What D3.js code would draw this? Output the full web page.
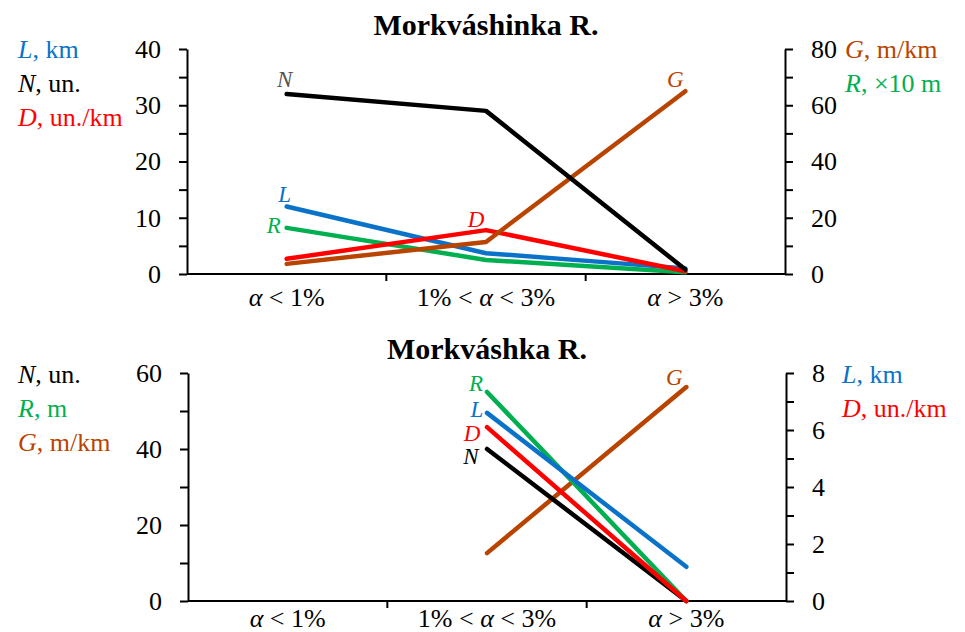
<!DOCTYPE html>
<html>
<head>
<meta charset="utf-8">
<script src="https://cdn.jsdelivr.net/npm/d3@7"></script>
<style>
  html, body { margin: 0; padding: 0; background: #fff; }
  svg { display: block; font-family: "Liberation Serif", "DejaVu Serif", serif; }
</style>
</head>
<body>
<svg id="chart" width="965" height="632"></svg>
<script>
// Slope classes along the x axis
const categories = ["α < 1%", "1% < α < 3%", "α > 3%"];

// Morkváshinka R. (upper panel)
const upperN = [32, 29, 0.8];     // un., left axis
const upperL = [12, 3.7, 1.0];    // km, left axis
const upperD = [2.7, 7.8, 0.5];   // un./km, left axis
const upperR = [16.4, 5.0, 0.6];  // ×10 m, right axis
const upperG = [3.6, 11.4, 65];   // m/km, right axis
const upperLeftTicks = [0, 10, 20, 30, 40];
const upperRightTicks = [0, 20, 40, 60, 80];

// Morkváshka R. (lower panel) – no reaches in the gentlest class
const lowerN = [null, 40, 0];     // un., left axis
const lowerR = [null, 55, 0];     // m, left axis
const lowerG = [null, 12.6, 56.3];// m/km, left axis
const lowerL = [null, 6.6, 1.2];  // km, right axis
const lowerD = [null, 6.1, 0];    // un./km, right axis
const lowerLeftTicks = [0, 20, 40, 60];
const lowerRightTicks = [0, 2, 4, 6, 8];

const COLORS = {
  L: "#0a72c8",
  N: "#000000",
  D: "#ff0000",
  R: "#00b050",
  G: "#b94400"
};

const svg = d3.select("#chart");
const FS = 26;        // axis text
const FS_SERIES = 23; // letters naming each line

function italicLabel(g, x, y, letter, rest, color, anchor, size) {
  const t = g.append("text")
    .attr("x", x).attr("y", y)
    .attr("fill", color)
    .attr("font-size", size || FS)
    .attr("text-anchor", anchor || "start");
  t.append("tspan").attr("font-style", "italic").text(letter);
  if (rest) t.append("tspan").text(rest);
  return t;
}

function drawPanel(p) {
  const g = svg.append("g");
  const x = d3.scaleBand().domain(categories).range([p.x0, p.x1]).paddingInner(0).paddingOuter(0);
  const cx = c => x(c) + x.bandwidth() / 2;
  const yL = d3.scaleLinear().domain([0, p.leftTicks[p.leftTicks.length - 1]]).range([p.yBottom, p.yTop]);
  const yR = d3.scaleLinear().domain([0, p.rightTicks[p.rightTicks.length - 1]]).range([p.yBottom, p.yTop]);

  // title
  g.append("text")
    .attr("x", (p.x0 + p.x1) / 2).attr("y", p.titleY)
    .attr("text-anchor", "middle")
    .attr("font-weight", "bold")
    .attr("font-size", 30)
    .text(p.title);

  // y axes: major ticks labelled, minor ticks halfway between
  function tickSet(ticks) {
    const step = ticks[1] - ticks[0];
    const out = [];
    ticks.forEach((t, i) => { out.push(t); if (i < ticks.length - 1) out.push(t + step / 2); });
    return out;
  }
  const leftAxis = d3.axisLeft(yL)
    .tickValues(tickSet(p.leftTicks))
    .tickFormat(d => p.leftTicks.includes(d) ? d3.format("d")(d) : "")
    .tickSize(8).tickSizeOuter(0).tickPadding(18);
  const rightAxis = d3.axisRight(yR)
    .tickValues(tickSet(p.rightTicks))
    .tickFormat(d => p.rightTicks.includes(d) ? d3.format("d")(d) : "")
    .tickSize(8).tickSizeOuter(0).tickPadding(18);

  const la = g.append("g").attr("transform", `translate(${p.x0},0)`).call(leftAxis);
  const ra = g.append("g").attr("transform", `translate(${p.x1},0)`).call(rightAxis);
  [la, ra].forEach(a => {
    a.attr("font-family", null).attr("font-size", null);
    a.selectAll("path, line").attr("stroke", "#000").attr("stroke-width", 2);
    a.selectAll("text").attr("font-size", FS).attr("fill", "#000");
  });

  // x axis: baseline and class boundaries
  const xa = g.append("g");
  xa.append("line")
    .attr("x1", p.x0).attr("x2", p.x1)
    .attr("y1", p.yBottom).attr("y2", p.yBottom)
    .attr("stroke", "#000").attr("stroke-width", 2);
  categories.slice(1).forEach(c => {
    xa.append("line")
      .attr("x1", x(c)).attr("x2", x(c))
      .attr("y1", p.yBottom).attr("y2", p.yBottom + 7)
      .attr("stroke", "#000").attr("stroke-width", 2);
  });
  categories.forEach(c => {
    const parts = c.split("α");
    const t = xa.append("text")
      .attr("x", cx(c)).attr("y", p.yBottom + p.catDy)
      .attr("text-anchor", "middle")
      .attr("font-size", FS);
    t.append("tspan").text(parts[0]);
    t.append("tspan").attr("font-style", "italic").text("α");
    t.append("tspan").text(parts[1]);
  });

  // series lines
  const lines = g.append("g");
  p.series.forEach(s => {
    const y = s.axis === "left" ? yL : yR;
    const pts = categories.map((c, i) => ({ c, v: s.values[i] }));
    const line = d3.line()
      .defined(d => d.v !== null)
      .x(d => cx(d.c))
      .y(d => y(d.v));
    lines.append("path")
      .datum(pts)
      .attr("d", line)
      .attr("fill", "none")
      .attr("stroke", COLORS[s.key])
      .attr("stroke-width", 4.5)
      .attr("stroke-linejoin", "round")
      .attr("stroke-linecap", "round");
    // series letter beside its labelled point
    const li = s.labelAt;
    italicLabel(g, cx(categories[li]) + s.ldx, y(s.values[li]) + s.ldy,
      s.key, null, s.labelColor || COLORS[s.key], "middle", FS_SERIES);
  });

  // axis captions
  p.leftCaptions.forEach((c, i) => {
    italicLabel(g, 18, p.capTop + i * p.capStep, c.key, c.text, COLORS[c.key]);
  });
  p.rightCaptions.forEach((c, i) => {
    italicLabel(g, p.rightCapX, p.capTop + i * p.capStep, c.key, c.text, COLORS[c.key]);
  });
}

drawPanel({
  title: "Morkváshinka R.",
  titleY: 35,
  x0: 187, x1: 785,
  yTop: 49, yBottom: 274,
  catDy: 32,
  leftTicks: upperLeftTicks,
  rightTicks: upperRightTicks,
  series: [
    { key: "R", values: upperR, axis: "right", labelAt: 0, ldx: -13, ldy: 5 },
    { key: "L", values: upperL, axis: "left", labelAt: 0, ldx: -2, ldy: -5 },
    { key: "D", values: upperD, axis: "left", labelAt: 1, ldx: -10, ldy: -3 },
    { key: "G", values: upperG, axis: "right", labelAt: 2, ldx: -10, ldy: -4 },
    { key: "N", values: upperN, axis: "left", labelAt: 0, ldx: -2, ldy: -7, labelColor: "#555" }
  ],
  leftCaptions: [
    { key: "L", text: ", km" },
    { key: "N", text: ", un." },
    { key: "D", text: ", un./km" }
  ],
  rightCaptions: [
    { key: "G", text: ", m/km" },
    { key: "R", text: ", ×10 m" }
  ],
  rightCapX: 845,
  capTop: 58, capStep: 34
});

drawPanel({
  title: "Morkváshka R.",
  titleY: 359,
  x0: 188, x1: 786,
  yTop: 373, yBottom: 601,
  catDy: 26,
  leftTicks: lowerLeftTicks,
  rightTicks: lowerRightTicks,
  series: [
    { key: "G", values: lowerG, axis: "left", labelAt: 2, ldx: -12, ldy: -2 },
    { key: "N", values: lowerN, axis: "left", labelAt: 1, ldx: -16, ldy: 15 },
    { key: "R", values: lowerR, axis: "left", labelAt: 1, ldx: -11, ldy: -1 },
    { key: "L", values: lowerL, axis: "right", labelAt: 1, ldx: -10, ldy: 4 },
    { key: "D", values: lowerD, axis: "right", labelAt: 1, ldx: -15, ldy: 14 }
  ],
  leftCaptions: [
    { key: "N", text: ", un." },
    { key: "R", text: ", m" },
    { key: "G", text: ", m/km" }
  ],
  rightCaptions: [
    { key: "L", text: ", km" },
    { key: "D", text: ", un./km" }
  ],
  rightCapX: 842,
  capTop: 383, capStep: 34
});
</script>
</body>
</html>
